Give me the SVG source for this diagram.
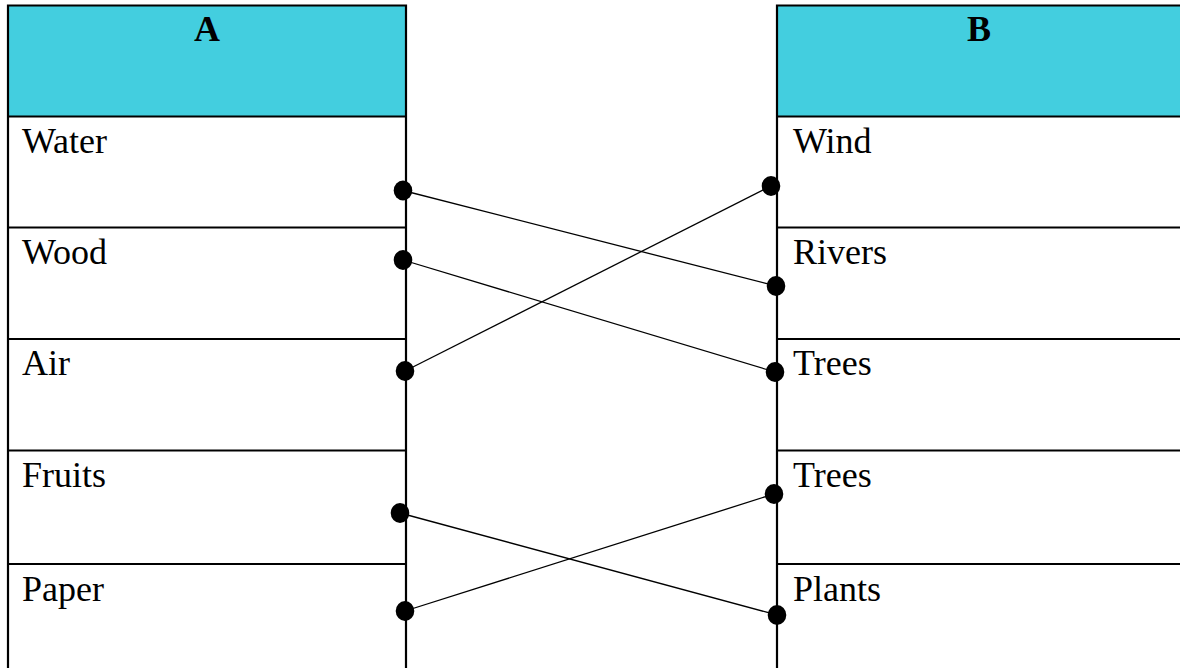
<svg xmlns="http://www.w3.org/2000/svg" width="1180" height="668" viewBox="0 0 1180 668">
<style>
.hdr{fill:#43CEDF}
.grid{stroke:#000;stroke-width:2.2;fill:none}
.t{font-family:"Liberation Serif","Times New Roman",serif;font-size:36px;fill:#000}
.h{font-family:"Liberation Serif","Times New Roman",serif;font-size:36px;font-weight:bold;fill:#000;text-anchor:middle}
.c{stroke:#000;stroke-width:1.3;fill:none}
.d{fill:#000}
</style>
<rect width="1180" height="668" fill="#fff"/>
<g id="tableA">
<rect class="hdr" x="8" y="5.5" width="398" height="111"/>
<path class="grid" d="M8,669 V5.5 H406 V669 M8,116.5 H406 M8,227.5 H406 M8,339 H406 M8,450.5 H406 M8,564 H406"/>
<text class="h" x="207" y="40.5">A</text>
<text class="t" x="22" y="152.5">Water</text>
<text class="t" x="22" y="263.5">Wood</text>
<text class="t" x="22" y="375">Air</text>
<text class="t" x="22" y="486.5">Fruits</text>
<text class="t" x="22" y="600.5">Paper</text>
</g>
<g id="tableB">
<rect class="hdr" x="777" y="5.5" width="404" height="111"/>
<path class="grid" d="M777,669 V5.5 H1182 M777,116.5 H1182 M777,227.5 H1182 M777,339 H1182 M777,450.5 H1182 M777,564 H1182"/>
<text class="h" x="979" y="40.5">B</text>
<text class="t" x="793" y="152.5">Wind</text>
<text class="t" x="793" y="263.5">Rivers</text>
<text class="t" x="793" y="375">Trees</text>
<text class="t" x="793" y="486.5">Trees</text>
<text class="t" x="793" y="600.5">Plants</text>
</g>
<g id="connectors">
<line class="c" x1="403" y1="190.5" x2="776" y2="286"/>
<line class="c" x1="403" y1="260" x2="775" y2="372"/>
<line class="c" x1="405" y1="371" x2="771" y2="186"/>
<line class="c" x1="400" y1="513" x2="777" y2="615"/>
<line class="c" x1="405" y1="611" x2="774" y2="494"/>
<ellipse class="d" cx="403" cy="190.5" rx="9.3" ry="10"/>
<ellipse class="d" cx="403" cy="260" rx="9.3" ry="10"/>
<ellipse class="d" cx="405" cy="371" rx="9.3" ry="10"/>
<ellipse class="d" cx="400" cy="513" rx="9.3" ry="10"/>
<ellipse class="d" cx="405" cy="611" rx="9.3" ry="10"/>
<ellipse class="d" cx="771" cy="186" rx="9.3" ry="10"/>
<ellipse class="d" cx="776" cy="286" rx="9.3" ry="10"/>
<ellipse class="d" cx="775" cy="372" rx="9.3" ry="10"/>
<ellipse class="d" cx="774" cy="494" rx="9.3" ry="10"/>
<ellipse class="d" cx="777" cy="615" rx="9.3" ry="10"/>
</g>
</svg>
